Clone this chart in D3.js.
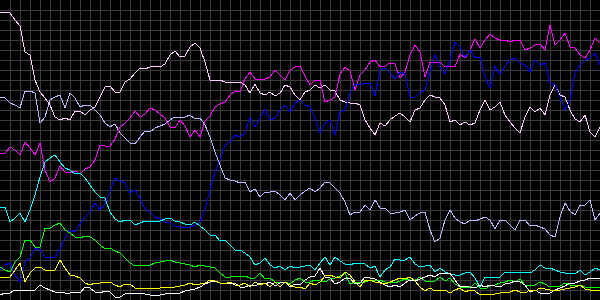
<!DOCTYPE html>
<html>
<head>
<meta charset="utf-8">
<script src="https://cdn.jsdelivr.net/npm/d3@7"></script>
<style>
    body { margin:0; background:#000; }
    svg { display:block; background:#000; }
</style>
</head>
<body>
<svg></svg>
<script>
// one reading every step of the index, 121 steps
var pink = [287,288,287,280,274,248,245,220,208,202,195,183,
    180,182,180,189,189,185,190,193,203,213,214,208,208,218,221,227,232,231,233,
    234,233,236,245,249,243,244,253,257,252,238,220,220,220,218,217,218,218,215,207,216,207,205,208,204,207,215,213,205,200,
    208,210,215,212,215,210,209,200,198,197,197,195,180,172,165,177,174,180,184,187,183,178,190,192,200,205,203,202,195,178,
    180,175,178,175,177,190,200,190,193,198,185,178,172,167,183,193,188,192,185,205,215,205,203,190,181,178,185,168,163,173]

var lavender = [203,202,197,195,192,209,209,207,177,183,200,203,
    205,192,207,202,193,195,195,190,185,177,173,176,167,162,157,156,163,169,168,
    172,174,176,180,183,182,183,185,181,182,175,163,148,135,122,120,119,117,118,108,111,103,108,108,109,105,100,107,100,105,
    109,112,108,112,118,117,112,107,98,85,88,88,95,90,100,92,92,87,87,88,90,80,84,87,88,70,58,62,80,90,
    82,78,76,80,79,81,83,80,71,80,80,75,70,80,80,74,75,73,71,65,63,83,97,89,85,95,95,100,80,87]

var magenta = [147,147,153,150,145,158,152,145,157,130,118,122,
    134,128,127,129,126,131,133,140,155,154,154,161,173,177,182,189,183,186,192,
    190,186,182,173,172,180,174,163,170,163,179,184,193,196,198,205,209,208,221,228,221,220,221,223,230,225,220,230,233,234,
    224,215,220,220,198,200,203,226,233,229,210,225,230,238,240,233,234,237,236,222,228,245,255,248,223,238,237,238,233,234,
    233,246,242,250,261,252,260,266,262,260,260,258,260,260,250,252,255,256,250,275,255,260,267,253,252,245,242,250,262,257]

var blue = [30,35,37,25,18,38,42,52,50,43,43,43,
    51,62,70,68,76,83,88,97,90,96,108,122,119,117,107,110,102,91,88,
    83,81,78,77,74,73,72,73,75,78,90,110,128,140,155,158,165,163,167,183,173,182,191,180,182,190,195,188,197,200,
    195,193,182,167,177,180,165,188,190,207,216,215,217,217,204,230,232,227,221,228,226,203,203,208,210,228,245,233,226,240,
    258,253,243,250,242,243,223,212,234,225,234,240,242,237,235,228,240,235,237,217,215,203,190,200,227,235,240,242,247,235]

var cyan = [93,93,78,82,87,78,90,105,123,138,142,145,
    138,132,130,126,127,122,115,108,103,102,88,81,78,80,80,75,77,79,79,
    78,79,81,82,79,78,76,75,78,74,70,65,65,59,60,55,50,50,47,43,35,37,42,35,32,34,30,34,32,33,
    34,35,30,37,43,35,43,39,36,35,37,37,36,32,34,23,30,33,41,40,40,43,36,33,34,35,28,32,28,26,
    25,25,27,28,22,13,23,23,23,23,28,27,28,28,28,27,30,35,32,32,30,28,27,27,26,30,25,28,32,30]

var green = [33,30,28,38,43,60,60,53,53,72,72,75,
    77,70,67,63,62,64,63,60,55,51,52,49,47,42,37,34,35,35,35,
    37,38,39,40,38,37,36,35,33,35,34,33,32,27,23,23,24,23,24,22,22,27,21,22,18,17,18,16,20,22,
    18,18,20,19,18,21,22,24,27,16,18,18,18,20,19,20,18,18,17,19,21,20,20,23,19,18,19,23,19,22,
    16,13,13,12,17,12,11,14,15,17,18,20,18,21,15,15,15,18,16,13,14,14,17,15,14,15,13,12,13,12]

var yellow = [22,23,23,30,37,18,27,32,33,30,30,30,
    40,32,25,24,22,17,15,17,17,18,18,15,13,16,16,12,12,12,12,
    12,12,13,13,13,14,15,17,15,16,17,20,19,17,16,18,15,15,17,13,18,15,17,13,18,13,18,15,13,13,
    11,17,15,18,24,25,23,22,28,25,18,13,20,20,18,17,16,18,20,22,21,23,19,13,9,12,9,10,10,7,
    10,12,8,10,9,5,6,5,6,7,8,8,10,8,7,10,9,12,11,10,9,10,11,12,13,15,11,10,9,10]

var white = [5,7,7,10,10,10,10,10,15,12,10,8,
    8,7,7,8,7,13,12,8,7,9,8,3,3,6,7,6,7,6,5,
    5,5,6,7,7,7,9,10,11,13,16,18,19,17,17,17,17,13,13,15,14,17,16,18,14,17,18,13,16,15,
    20,23,24,32,23,22,16,18,22,22,16,17,23,22,21,18,15,13,15,13,17,20,19,21,23,25,23,27,26,27,
    20,13,14,13,12,15,13,15,14,13,16,17,19,18,15,8,10,7,6,7,10,12,14,17,17,19,20,22,22,21]

var series = [
    {name:"lavender", color:"#bbbbff", values:lavender},
    {name:"pink", color:"#ffccff", values:pink},
    {name:"magenta", color:"#ff00ff", values:magenta},
    {name:"blue", color:"#0000ff", values:blue},
    {name:"cyan", color:"#00ffff", values:cyan},
    {name:"green", color:"#00ff00", values:green},
    {name:"white", color:"#ffffff", values:white},
    {name:"yellow", color:"#ffff00", values:yellow}
]

var screen = {width:600, height:300}

var svg = d3.select("svg")
    .attr("width", screen.width)
    .attr("height", screen.height)

var xScale = d3.scaleLinear()
    .domain([0, pink.length-1])
    .range([0, screen.width])

var yScale = d3.scaleLinear()
    .domain([0, 300])
    .range([screen.height, 0])

// grid: one line every 2 steps across, every 10 units up
var xGrid = d3.axisBottom(xScale)
    .tickValues(d3.range(2, pink.length-1, 2))
    .tickSize(-screen.height)
    .tickFormat("")

var yGrid = d3.axisLeft(yScale)
    .tickValues(d3.range(10, 300, 10))
    .tickSize(-screen.width)
    .tickFormat("")

svg.append("g")
    .attr("class", "grid")
    .attr("transform", "translate(0," + screen.height + ")")
    .call(xGrid)

svg.append("g")
    .attr("class", "grid")
    .call(yGrid)

svg.selectAll(".grid .domain").remove()
svg.selectAll(".grid line")
    .attr("stroke", "#3c3c3c")
    .attr("stroke-width", 1)
    .attr("shape-rendering", "crispEdges")

var line = d3.line()
    .x(function(d, i){return xScale(i)})
    .y(function(d){return yScale(d)})

svg.selectAll(".series")
    .data(series)
    .enter()
    .append("path")
    .attr("class", "series")
    .attr("d", function(s){return line(s.values)})
    .attr("fill", "none")
    .attr("stroke", function(s){return s.color})
    .attr("stroke-width", 1)
    .attr("shape-rendering", "crispEdges")
</script>
</body>
</html>
